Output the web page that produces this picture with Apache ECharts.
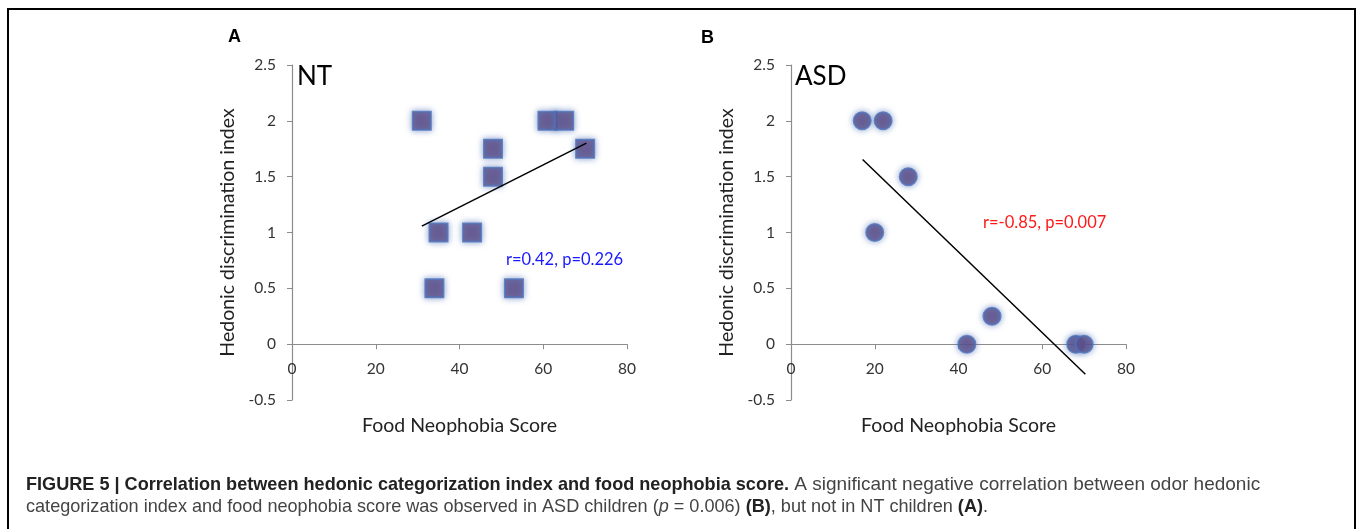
<!DOCTYPE html>
<html>
<head>
<meta charset="utf-8">
<script src="https://cdn.jsdelivr.net/npm/echarts@6/dist/echarts.min.js"></script>
<style>
html,body{margin:0;padding:0;background:#fff;}
#chart{width:1357px;height:529px;}
</style>
</head>
<body>
<div id="chart"></div>
<script>
// Panel A (NT)
const ntScores = [31, 35, 34, 43, 48, 48, 53, 61, 65, 70];
const ntIndex  = [2, 1, 0.5, 1, 1.75, 1.5, 0.5, 2, 2, 1.75];
const ntTrendX = [31, 70.3];
const ntTrendY = [1.057, 1.80];
// Panel B (ASD)
const asdScores = [17, 22, 28, 20, 48, 42, 68, 70];
const asdIndex  = [2, 2, 1.5, 1, 0.25, 0, 0, 0];
const asdTrendX = [17.1, 70.3];
const asdTrendY = [1.654, -0.27];
// Axis ticks
const xTicks = [0, 20, 40, 60, 80];
const yTicks = [-0.5, 0, 0.5, 1, 1.5, 2, 2.5];

const pairs = (xs, ys) => xs.map((x, i) => [x, ys[i]]);
const FONT = 'Lato';
const GRID_H = 335;
// x axis sits at y = 0, which is 0.5 units above the bottom of the y range
const zeroOffset = -GRID_H * (0 - yTicks[0]) / (yTicks[yTicks.length - 1] - yTicks[0]);

function xAxisCfg(idx) {
  return {
    gridIndex: idx, type: 'value', position: 'bottom', offset: zeroOffset,
    min: xTicks[0], max: xTicks[xTicks.length - 1], interval: xTicks[1] - xTicks[0],
    axisLine: { onZero: false, lineStyle: { color: '#8c8c8c', width: 1.2 } },
    axisTick: { show: true, inside: false, length: 5, lineStyle: { color: '#8c8c8c' } },
    axisLabel: { color: '#333', fontSize: 15.5, fontFamily: FONT, margin: 17 },
    splitLine: { show: false },
    name: 'Food Neophobia Score', nameLocation: 'middle', nameGap: 72,
    nameTextStyle: { color: '#222', fontSize: 19.5, fontFamily: FONT }
  };
}
function yAxisCfg(idx) {
  return {
    gridIndex: idx, type: 'value',
    min: yTicks[0], max: yTicks[yTicks.length - 1], interval: 0.5,
    axisLine: { show: true, lineStyle: { color: '#8c8c8c', width: 1.2 } },
    axisTick: { show: true, inside: false, length: 5, lineStyle: { color: '#8c8c8c' } },
    axisLabel: { color: '#333', fontSize: 15.5, fontFamily: FONT, margin: 16 },
    splitLine: { show: false },
    name: 'Hedonic discrimination index', nameLocation: 'middle', nameGap: 54,
    nameTextStyle: { color: '#222', fontSize: 19.5, fontFamily: FONT }
  };
}
const markerStyle = {
  color: '#5c4a82',
  borderColor: '#4d70b8',
  borderWidth: 2,
  shadowBlur: 6,
  shadowColor: 'rgba(77,112,184,0.75)'
};

const chart = echarts.init(document.getElementById('chart'), null, { renderer: 'canvas' });
chart.setOption({
  backgroundColor: '#fff',
  animation: false,
  grid: [
    { left: 292, top: 65, width: 335, height: GRID_H },
    { left: 791, top: 65, width: 335, height: GRID_H }
  ],
  xAxis: [xAxisCfg(0), xAxisCfg(1)],
  yAxis: [yAxisCfg(0), yAxisCfg(1)],
  series: [
    {
      type: 'line', xAxisIndex: 0, yAxisIndex: 0, data: pairs(ntTrendX, ntTrendY),
      symbol: 'none', lineStyle: { color: '#000', width: 1.5 }, z: 3
    },
    {
      type: 'scatter', xAxisIndex: 0, yAxisIndex: 0, data: pairs(ntScores, ntIndex),
      symbol: 'rect', symbolSize: 18, itemStyle: markerStyle, z: 2
    },
    {
      type: 'line', xAxisIndex: 1, yAxisIndex: 1, data: pairs(asdTrendX, asdTrendY),
      symbol: 'none', lineStyle: { color: '#000', width: 1.5 }, z: 3
    },
    {
      type: 'scatter', xAxisIndex: 1, yAxisIndex: 1, data: pairs(asdScores, asdIndex),
      symbol: 'circle', symbolSize: 17, itemStyle: markerStyle, z: 2
    }
  ],
  graphic: [
    { type: 'rect', shape: { x: 8, y: 9, width: 1347, height: 560 },
      style: { fill: 'none', stroke: '#000', lineWidth: 2 }, silent: true },
    { type: 'text', x: 228, y: 37, style: { text: 'A', font: 'bold 18px "Liberation Sans"', fill: '#000', verticalAlign: 'middle' } },
    { type: 'text', x: 701, y: 38, style: { text: 'B', font: 'bold 18px "Liberation Sans"', fill: '#000', verticalAlign: 'middle' } },
    { type: 'text', x: 297, y: 77, style: { text: 'NT', font: '26px Lato', fill: '#000', verticalAlign: 'middle' } },
    { type: 'text', x: 795, y: 77, style: { text: 'ASD', font: '26px Lato', fill: '#000', verticalAlign: 'middle' } },
    { type: 'text', x: 506, y: 260, style: { text: 'r=0.42, p=0.226', font: '16.5px Lato', fill: '#1a1aff', verticalAlign: 'middle' } },
    { type: 'text', x: 983, y: 223, style: { text: 'r=-0.85, p=0.007', font: '16.5px Lato', fill: '#ff1a1a', verticalAlign: 'middle' } },
    { type: 'text', x: 26, y: 485, style: {
        text: '{b|FIGURE 5 | Correlation between hedonic categorization index and food neophobia score.} A significant negative correlation between odor hedonic',
        font: '19px "Liberation Sans"', fill: '#444', verticalAlign: 'middle',
        rich: { b: { font: 'bold 18.1px "Liberation Sans"', fill: '#222' } }
    } },
    { type: 'text', x: 26, y: 507, style: {
        text: 'categorization index and food neophobia score was observed in ASD children ({i|p} = 0.006) {b|(B)}, but not in NT children {b|(A)}.',
        font: '18.1px "Liberation Sans"', fill: '#444', verticalAlign: 'middle',
        rich: { b: { font: 'bold 18.1px "Liberation Sans"', fill: '#222' }, i: { font: 'italic 18.1px "Liberation Sans"', fill: '#444' } }
    } }
  ]
});
</script>
</body>
</html>
